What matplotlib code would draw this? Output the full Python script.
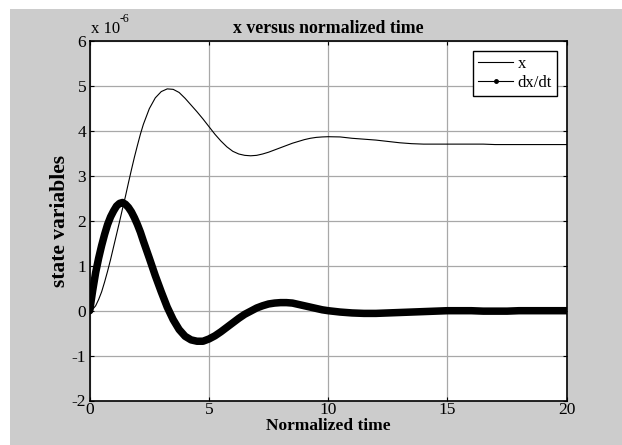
import matplotlib
matplotlib.use("Agg")
import matplotlib.pyplot as plt
from matplotlib.lines import Line2D
from matplotlib.patches import Rectangle

# ---- data (values in units of 1e-6) ----
t_vals = [0, 0.125, 0.25, 0.375, 0.5, 0.625, 0.75, 0.875, 1.0, 1.125, 1.25, 1.375, 1.5,
          1.625, 1.75, 1.875, 2.0, 2.125, 2.25, 2.5, 2.75, 3.0, 3.25,
          3.5, 3.75, 4.0, 4.25, 4.5, 4.75, 5.0, 5.25, 5.5, 5.75, 6.0, 6.25, 6.5, 6.75,
          7.0, 7.25, 7.5, 7.75, 8.0, 8.25, 8.5, 8.75, 9.0, 9.25, 9.5, 9.75, 10.0,
          10.5, 11.0, 11.5, 12.0, 12.5, 13.0, 13.5, 14.0, 14.5, 15.0, 15.5, 16.0,
          16.5, 17.0, 17.5, 18.0, 18.5, 19.0, 19.5, 20.0]

x_vals = [0.0, 0.03, 0.11, 0.25, 0.42, 0.64, 0.88, 1.14, 1.42, 1.70, 1.98, 2.27, 2.55,
          2.85, 3.14, 3.42, 3.68, 3.93, 4.15, 4.50, 4.74, 4.88, 4.94,
          4.93, 4.86, 4.73, 4.58, 4.43, 4.27, 4.10, 3.93, 3.78, 3.65, 3.55, 3.49, 3.46, 3.45,
          3.46, 3.49, 3.53, 3.58, 3.63, 3.68, 3.73, 3.77, 3.81, 3.84, 3.86, 3.87, 3.875,
          3.87, 3.84, 3.82, 3.80, 3.77, 3.74, 3.72, 3.71, 3.71, 3.71, 3.71, 3.71,
          3.71, 3.70, 3.70, 3.70, 3.70, 3.70, 3.70, 3.70]

dxdt_vals = [0.0, 0.45, 0.85, 1.17, 1.45, 1.70, 1.92, 2.09, 2.22, 2.33, 2.39, 2.41, 2.37,
             2.30, 2.20, 2.07, 1.92, 1.75, 1.55, 1.17, 0.78, 0.42, 0.08,
             -0.20, -0.42, -0.57, -0.65, -0.68, -0.68, -0.63, -0.56, -0.47, -0.37, -0.27, -0.17, -0.08, -0.01,
             0.06, 0.11, 0.15, 0.17, 0.18, 0.18, 0.17, 0.14, 0.11, 0.08, 0.05, 0.02, 0.0,
             -0.03, -0.05, -0.06, -0.06, -0.05, -0.04, -0.03, -0.02, -0.01, 0.0, 0.0, 0.0,
             -0.01, -0.01, -0.01, 0.0, 0.0, 0.0, 0.0, 0.0]

x_ticks = [0, 5, 10, 15, 20]
y_ticks = [-2, -1, 0, 1, 2, 3, 4, 5, 6]

title_text = "x versus normalized time"
xlabel_text = "Normalized time"
ylabel_text = "state variables"
legend_labels = ["x", "dx/dt"]

plt.rcParams['font.family'] = ['Liberation Serif', 'DejaVu Serif']

W, H = 622, 445
fig = plt.figure(figsize=(W / 100, H / 100), dpi=100, facecolor='white')
fig.patches.append(Rectangle((10 / W, 0), 1 - 10 / W, 1 - 9 / H, transform=fig.transFigure,
                             facecolor='#cccccc', edgecolor='none', zorder=-10))

left, right, top, bottom = 89.7, 566.7, 41.3, 400.5
ax = fig.add_axes([left / W, 1 - bottom / H, (right - left) / W, (bottom - top) / H])
ax.set_facecolor('white')

ax.plot(t_vals, x_vals, color='black', lw=0.8, zorder=3)
ax.plot(t_vals, dxdt_vals, color='black', lw=5.4, solid_capstyle='round',
        solid_joinstyle='round', zorder=3)

ax.set_xlim(0, 20)
ax.set_ylim(-2, 6)
ax.set_xticks(x_ticks)
ax.set_yticks(y_ticks)
ax.set_xticklabels([str(v) for v in x_ticks])
ax.set_yticklabels([str(v) for v in y_ticks])
ax.grid(True, color='#a8a8a8', lw=0.9, ls='-')
ax.set_axisbelow(True)
ax.tick_params(direction='in', length=3, width=0.8, top=True, right=True,
               labelsize=12.5)
ax.tick_params(axis='x', pad=1.0)
ax.tick_params(axis='y', pad=2.5)
for s in ax.spines.values():
    s.set_linewidth(1.2)
    s.set_color('black')

ax.set_title(title_text, fontsize=12.8, fontweight='bold', pad=6)
ax.set_xlabel(xlabel_text, fontsize=12.5, fontweight='bold', labelpad=0)
ax.set_ylabel(ylabel_text, fontsize=15.5, fontweight='bold', labelpad=1)

# exponent annotation (MATLAB style)
ax.text(0.002, 1.012, "x 10", transform=ax.transAxes, fontsize=12, ha='left', va='bottom')
ax.text(0.062, 1.045, "-6", transform=ax.transAxes, fontsize=8.5, ha='left', va='bottom')

handles = [Line2D([], [], color='black', lw=0.8),
           Line2D([], [], color='black', lw=0.8, marker='.', markersize=5)]
leg = ax.legend(handles, legend_labels, loc='upper right', fontsize=12,
                fancybox=False, framealpha=1, edgecolor='black', handlelength=2.1,
                handletextpad=0.25, borderpad=0.3, labelspacing=0.2,
                bbox_to_anchor=(0.997, 0.997))
leg.get_frame().set_linewidth(1.0)

fig.savefig("out.png", dpi=100, facecolor=fig.get_facecolor())
